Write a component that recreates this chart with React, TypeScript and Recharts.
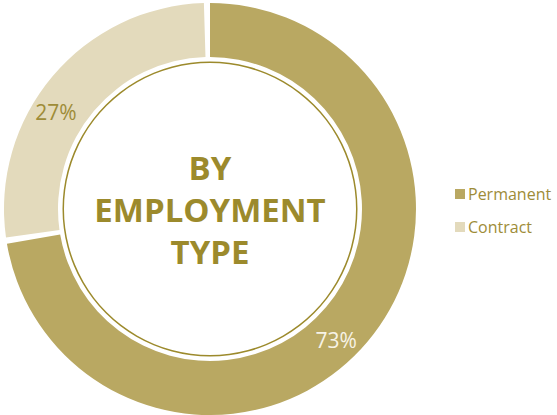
import React from 'react';
import { PieChart, Pie, Cell, Legend, Label } from 'recharts';

const categories = ['Permanent', 'Contract'];
const values = [73, 27];
const sliceColors = ['#B9A862', '#E3DABC'];
const labelColors = ['#F7F3E6', '#9E8C38'];
const labelAngleShift = [-6, 8];
const titleLines = ['BY', 'EMPLOYMENT', 'TYPE'];

const data = categories.map((name, i) => ({ name, value: values[i] }));
const ringData = [{ name: 'ring', value: 1 }];

const RAD = Math.PI / 180;

const renderLabel = (props: any) => {
  const { cx, cy, midAngle, innerRadius, outerRadius, index, value } = props;
  const r = (innerRadius + outerRadius) / 2 + 3;
  const a = (midAngle + labelAngleShift[index]) * RAD;
  const x = cx + r * Math.cos(a);
  const y = cy - r * Math.sin(a);
  return (
    <text
      x={x}
      y={y}
      fill={labelColors[index]}
      textAnchor="middle"
      dominantBaseline="central"
      fontSize={21}
      fontFamily="'Open Sans', sans-serif"
    >
      {`${value}%`}
    </text>
  );
};

const renderCenter = (props: any) => {
  const vb = props.viewBox || {};
  const cx = vb.cx ?? 210;
  const cy = vb.cy ?? 209;
  return (
    <g>
      {titleLines.map((t, i) => (
        <text
          key={t}
          x={cx}
          y={cy + (i - 1) * 42}
          textAnchor="middle"
          dominantBaseline="central"
          fill="#9C8A2C"
          fontSize={33}
          fontWeight={700}
          fontFamily="'Open Sans', sans-serif"
        >
          {t}
        </text>
      ))}
    </g>
  );
};

const renderLegend = () => (
  <div style={{ fontFamily: "'Open Sans', sans-serif" }}>
    {categories.map((c, i) => (
      <div key={c} style={{ display: 'flex', alignItems: 'center', height: 33 }}>
        <span
          style={{
            display: 'inline-block',
            width: 10,
            height: 10,
            background: sliceColors[i],
            marginRight: 3,
          }}
        />
        <span style={{ color: '#9E8C38', fontSize: 16 }}>{c}</span>
      </div>
    ))}
  </div>
);

export default function App() {
  return (
    <div style={{ position: 'absolute', left: 0, top: 0 }}>
      <PieChart width={557} height={415} margin={{ top: 0, right: 0, bottom: 0, left: 0 }}>
        <Pie
          data={ringData}
          dataKey="value"
          cx={210}
          cy={209}
          innerRadius={146}
          outerRadius={147.5}
          fill="#9C8A2C"
          stroke="none"
          isAnimationActive={false}
          legendType="none"
        >
          <Label content={renderCenter} position="center" />
        </Pie>
        <Pie
          data={data}
          dataKey="value"
          cx={210}
          cy={209}
          innerRadius={152}
          outerRadius={206}
          startAngle={90}
          endAngle={-270}
          paddingAngle={1.7}
          stroke="none"
          label={renderLabel}
          labelLine={false}
          isAnimationActive={false}
        >
          {data.map((d, i) => (
            <Cell key={d.name} fill={sliceColors[i]} />
          ))}
        </Pie>
        <Legend
          content={renderLegend}
          wrapperStyle={{ position: 'absolute', left: 455, top: 177, width: 110 }}
        />
      </PieChart>
    </div>
  );
}
